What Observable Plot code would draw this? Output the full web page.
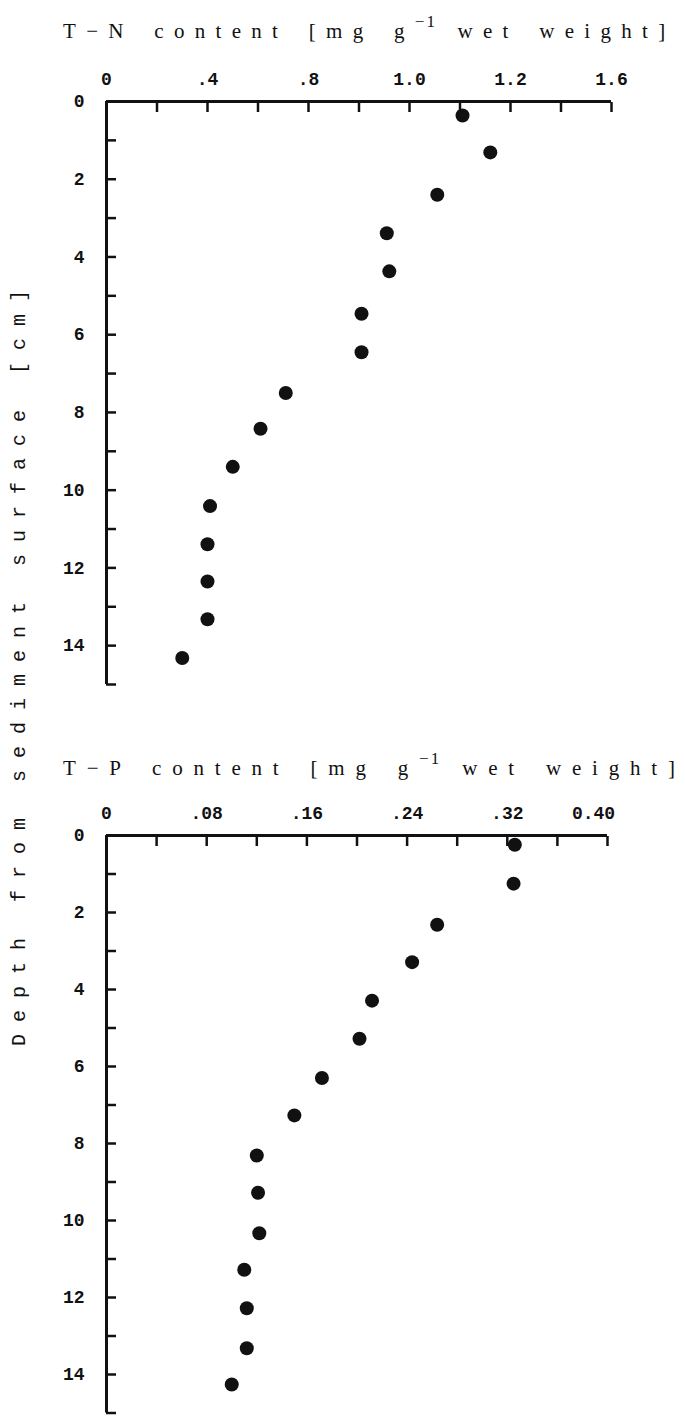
<!DOCTYPE html>
<html>
<head>
<meta charset="utf-8">
<script src="https://cdn.jsdelivr.net/npm/d3@7"></script>
<script src="https://cdn.jsdelivr.net/npm/@observablehq/plot@0.6"></script>
<style>
  body { margin: 0; background: #fff; }
  #wrap { position: relative; width: 685px; height: 1416px; overflow: hidden; background: #fff; }
  .title { position: absolute; left: 63px; font-family: "Liberation Serif", serif; font-size: 21px;
           letter-spacing: 10.3px; word-spacing: 5px; white-space: nowrap; color: #111; line-height: 24px; }
  .title sup { font-size: 17px; vertical-align: baseline; position: relative; top: -11px; letter-spacing: 2px; }
  #ylab { position: absolute; width: 900px; left: -430px; top: 650px; text-align: center;
          transform: rotate(-90deg); transform-origin: 50% 50%; font-family: "Liberation Mono", monospace;
          font-size: 20px; letter-spacing: 12px; word-spacing: 0px; white-space: nowrap; color: #111; line-height: 24px; }
  .plot { position: absolute; left: 0; }
</style>
</head>
<body>
<div id="wrap">
  <div class="title" id="t1" style="top:19px">T−N content [mg g<sup>−1</sup> wet weight]</div>
  <div class="title" id="t2" style="top:756px; letter-spacing:10.8px">T−P content [mg g<sup>−1</sup> wet weight]</div>
  <div id="ylab">Depth from sediment surface [cm]</div>
</div>
<script>
// ---- data ----
const depthTN = [0.36, 1.31, 2.40, 3.39, 4.37, 5.46, 6.45, 7.50, 8.42, 9.40, 10.41, 11.39, 12.35, 13.32, 14.32];
const tnContent = [1.41, 1.52, 1.31, 1.11, 1.12, 1.01, 1.01, 0.71, 0.61, 0.50, 0.41, 0.40, 0.40, 0.40, 0.30];
const depthTP = [0.24, 1.25, 2.32, 3.29, 4.29, 5.28, 6.30, 7.27, 8.31, 9.28, 10.33, 11.28, 12.28, 13.32, 14.26];
const tpContent = [0.326, 0.325, 0.264, 0.244, 0.212, 0.202, 0.172, 0.150, 0.120, 0.121, 0.122, 0.110, 0.112, 0.112, 0.100];

const tnTickValues = [0, 0.4, 0.8, 1.2, 1.6, 2.0];
const tnTickLabels = ["0", ".4", ".8", "1.0", "1.2", "1.6"];
const tnMinorTicks = [0.2, 0.4, 0.6, 0.8, 1.0, 1.2, 1.4, 1.6, 1.8, 2.0];
const tpTickValues = [0, 0.08, 0.16, 0.24, 0.32, 0.40];
const tpTickLabels = ["0", ".08", ".16", ".24", ".32", "0.40"];
const tpMinorTicks = [0.04, 0.08, 0.12, 0.16, 0.20, 0.24, 0.28, 0.32, 0.36, 0.40];
const depthTickValues = [0, 2, 4, 6, 8, 10, 12, 14];
const depthTickLabels = ["0", "2", "4", "6", "8", "10", "12", "14"];
const depthMinorTicks = [1, 2, 3, 4, 5, 6, 7, 8, 9, 10, 11, 12, 13, 14, 15];

function panel({xs, ys, xMax, xTicks, xLabels, xMinor, lastDx, height, marginTop, marginBottom, marginRight}) {
  const table = xs.map((v, i) => ({x: v, y: ys[i]}));
  const xl = new Map(xTicks.map((v, i) => [v, xLabels[i]]));
  const yl = new Map(depthTickValues.map((v, i) => [v, depthTickLabels[i]]));
  const n = xTicks.length;
  return Plot.plot({
    width: 685, height, marginLeft: 106, marginRight, marginTop, marginBottom,
    x: {domain: [0, xMax], axis: null},
    y: {domain: [0, 15], reverse: true, axis: null},
    style: {fontFamily: "Liberation Mono, monospace", fontSize: "18px", color: "#111", background: "transparent", overflow: "visible"},
    marks: [
      Plot.axisX(xMinor, {anchor: "top", tickSize: -10, tickFormat: () => "", strokeWidth: 2.5, label: null}),
      Plot.axisY(depthMinorTicks, {anchor: "left", tickSize: -10, tickFormat: () => "", strokeWidth: 2.5, label: null}),
      Plot.axisX(xTicks.slice(0, n - 1), {anchor: "top", tickSize: 0, tickPadding: 17, tickFormat: (d) => xl.get(d), fontWeight: "bold", label: null}),
      Plot.axisX(xTicks.slice(n - 1), {anchor: "top", tickSize: 0, tickPadding: 17, dx: lastDx, tickFormat: (d) => xl.get(d), fontWeight: "bold", label: null}),
      Plot.axisY(depthTickValues, {anchor: "left", tickSize: 0, tickPadding: 22, tickFormat: (d) => yl.get(d), fontWeight: "bold", label: null}),
      Plot.ruleY([0], {strokeWidth: 3, stroke: "#111"}),
      Plot.ruleX([0], {strokeWidth: 3, stroke: "#111"}),
      Plot.dot(table, {x: "x", y: "y", r: 7, fill: "#111", stroke: "none"})
    ]
  });
}

const p1 = panel({xs: tnContent, ys: depthTN, xMax: 2.0, xTicks: tnTickValues, xLabels: tnTickLabels, xMinor: tnMinorTicks, lastDx: 0,
  height: 700, marginTop: 101, marginBottom: 16, marginRight: 74});
p1.classList.add("plot"); p1.style.top = "0px";
const p2 = panel({xs: tpContent, ys: depthTP, xMax: 0.40, xTicks: tpTickValues, xLabels: tpTickLabels, xMinor: tpMinorTicks, lastDx: -14,
  height: 696, marginTop: 115, marginBottom: 3.5, marginRight: 78});
p2.classList.add("plot"); p2.style.top = "720px";
const wrap = document.getElementById("wrap");
wrap.insertBefore(p1, wrap.firstChild);
wrap.insertBefore(p2, wrap.firstChild);
</script>
</body>
</html>
